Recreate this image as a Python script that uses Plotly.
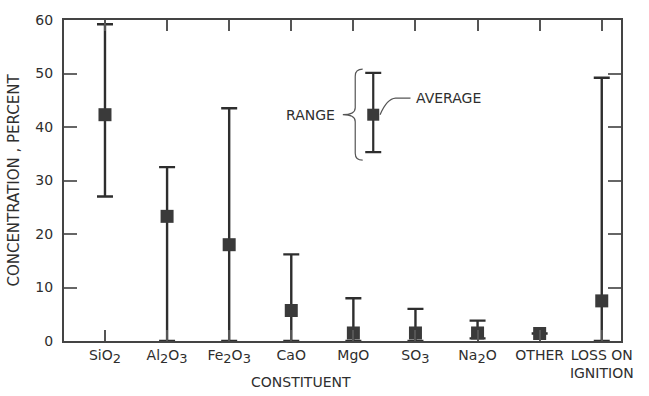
import plotly.graph_objects as go

def s(n):
    return f"<sub><span style='font-size:13px'>{n}</span></sub>"

categories = ["SiO" + s(2), "Al" + s(2) + "O" + s(3), "Fe" + s(2) + "O" + s(3), "CaO",
              "MgO", "SO" + s(3), "Na" + s(2) + "O", "OTHER", "LOSS ON<br>IGNITION"]
average = [42.3, 23.3, 18.0, 5.7, 1.5, 1.5, 1.5, 1.4, 7.5]
range_max = [59.2, 32.5, 43.5, 16.2, 8.0, 6.0, 3.8, None, 49.2]
range_min = [27.0, 0.0, 0.0, 0.0, 0.0, 0.0, 0.5, None, 0.0]

# legend example
leg_avg, leg_max, leg_min = 42.3, 50.1, 35.3

INK = "#2e2e2e"
FONT = "DejaVu Sans"
xs = list(range(len(categories)))

plus = [None if mx is None else mx - a for mx, a in zip(range_max, average)]
minus = [None if mn is None else a - mn for mn, a in zip(range_min, average)]

fig = go.Figure()
fig.add_trace(go.Scatter(
    x=xs, y=average, mode="markers",
    marker=dict(symbol="square", size=13, color="#3a3a3a", line=dict(width=0)),
    error_y=dict(type="data", symmetric=False, array=plus, arrayminus=minus,
                 color=INK, thickness=2.4, width=8),
    showlegend=False, hoverinfo="skip"))

# legend sample
lx = 4.32
fig.add_trace(go.Scatter(
    x=[lx], y=[leg_avg], mode="markers",
    marker=dict(symbol="square", size=12, color="#3a3a3a"),
    error_y=dict(type="data", symmetric=False, array=[leg_max - leg_avg],
                 arrayminus=[leg_avg - leg_min], color=INK, thickness=2.2, width=8),
    showlegend=False, hoverinfo="skip"))

# brace
top, bot, mid = 50.8, 33.8, leg_avg
xsp, xe, xt = lx - 0.29, lx - 0.17, lx - 0.49
d = 1.3
path = (f"M {xe},{top} Q {xsp},{top} {xsp},{top-d} L {xsp},{mid+d} "
        f"Q {xsp},{mid} {xt},{mid} Q {xsp},{mid} {xsp},{mid-d} "
        f"L {xsp},{bot+d} Q {xsp},{bot} {xe},{bot}")
fig.add_shape(type="path", path=path, xref="x", yref="y",
              line=dict(color="#555", width=1.2))
# leader line to AVERAGE
lead = (f"M {lx+0.11},{mid} Q {lx+0.22},{mid+3.0} {lx+0.36},{mid+3.1} L {lx+0.6},{mid+3.1}")
fig.add_shape(type="path", path=lead, xref="x", yref="y",
              line=dict(color="#555", width=1.2))

fig.add_annotation(x=lx + 0.65, y=mid + 3.1, text="AVERAGE", showarrow=False,
                   xanchor="left", yanchor="middle", font=dict(family=FONT, size=14, color=INK))
fig.add_annotation(x=lx - 0.58, y=mid, text="RANGE", showarrow=False,
                   xanchor="right", yanchor="middle", font=dict(family=FONT, size=14, color=INK))
fig.add_annotation(x=3.16, y=0, yref="paper", yshift=-41, text="CONSTITUENT", showarrow=False,
                   xanchor="center", yanchor="middle", font=dict(family=FONT, size=14, color=INK))

fig.update_layout(
    width=649, height=396,
    margin=dict(l=64, r=28, t=13, b=55),
    paper_bgcolor="white", plot_bgcolor="white",
    font=dict(family=FONT, size=14, color=INK),
    xaxis=dict(range=[-0.66, 8.31], tickvals=xs, ticktext=categories,
               showline=True, linecolor="#444", linewidth=2, mirror="ticks",
               ticks="inside", ticklen=11, tickwidth=1.5, tickcolor="#555",
               showgrid=False, zeroline=False, tickfont=dict(size=14)),
    yaxis=dict(range=[0, 60], tickvals=[0, 10, 20, 30, 40, 50, 60],
               showline=True, linecolor="#444", linewidth=2, mirror="ticks",
               ticks="inside", ticklen=13, tickwidth=1.5, tickcolor="#666",
               showgrid=False, zeroline=False, ticklabelstandoff=6,
               tickfont=dict(size=14),
               title=dict(text="CONCENTRATION , PERCENT", standoff=12,
                          font=dict(size=15))),
)

fig.write_html("out.html")
